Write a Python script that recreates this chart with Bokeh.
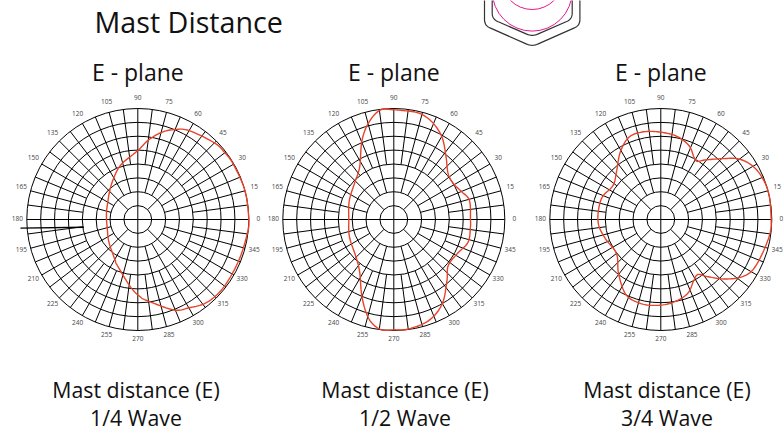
import numpy as np
from bokeh.plotting import figure
from bokeh.models import Range1d
from bokeh.core.properties import value
from bokeh.embed import file_html
from bokeh.resources import INLINE

# ---- data (radius: 333 = outer ring, 8 rings) ----
RMAX = 333.0
RINGS = [1, 2, 3, 4, 5, 6, 7, 8]
TICKS = list(range(0, 360, 15))
TITLE = "Mast Distance"
SUBTITLE = "E - plane"
CAPTION = "Mast distance (E)"
WAVES = ["1/4 Wave", "1/2 Wave", "3/4 Wave"]

a1 = [0, 15, 30, 38, 45, 60, 68, 75, 82.5, 90, 107, 120, 134, 153, 165, 180, 195, 218, 241, 246, 264, 271.5, 276.6,
      291.7, 300, 310, 322, 338, 352.5]
r1 = [333, 333, 331, 329, 325, 308, 291, 270, 240, 207, 172, 144, 121, 102, 97, 94, 95, 110, 140, 151, 204, 231, 245,
      292, 306, 324, 328, 327, 331]

a2 = [0, 14, 21.8, 30.7, 40, 50, 59.6, 68.5, 76.8, 85.6, 90, 97, 104.4, 112, 123, 136, 157, 180, 201.7, 225, 237,
      247.8, 255.9, 263, 270, 277.8, 289, 299.8, 311, 319.7, 331.5, 343, 354]
r2 = [230, 234, 221, 209, 213, 244, 286, 314, 328, 328, 329, 331, 301, 255, 188, 162, 145, 135, 143, 160, 188,
      252, 307, 332, 331, 331, 321, 292, 243, 214, 216, 233, 231]

a3 = [0, 13, 22.7, 30.6, 37.9, 44, 53, 58, 62, 69, 78.9, 90, 101, 111, 121, 133, 144.5, 159, 173, 185.5, 199, 217.8,
      232, 244.6, 254, 264, 276.6, 289.5, 298.4, 304, 309, 316.7, 324, 330.8, 341, 352.5]
r3 = [331, 333, 329, 318, 296, 263, 224, 206, 212, 237, 254, 262, 268, 265, 236, 195, 176, 188, 189, 187, 176, 168,
      206, 247, 258, 259, 253, 237, 208, 199, 220, 260, 295, 314, 321, 330]

stray_angle = [184.2, 188.1]
stray_radius = [353, 163.6]

# ---- layout ----
CX = [137.3, 393.3, 660.3]
CY = 219.0
R = 111.0
CAPTION_X = [135.5, 404.5, 666.5]

p = figure(width=784, height=434, output_backend="svg", toolbar_location=None,
           x_range=Range1d(0, 784), y_range=Range1d(434, 0), min_border=0,
           outline_line_color=None, background_fill_color="white",
           x_axis_type=None, y_axis_type=None)
p.xgrid.visible = False
p.ygrid.visible = False
p.styles = {"margin": "0"}


def polar(cx, deg, r):
    t = np.radians(np.asarray(deg, float))
    r = np.asarray(r, float) / RMAX * R
    return cx + r * np.cos(t), CY - r * np.sin(t)


def closed_spline(x, y, n=10):
    P = np.column_stack([x, y])
    out = []
    m = len(P)
    for i in range(m):
        p0, p1, p2, p3 = P[i - 1], P[i], P[(i + 1) % m], P[(i + 2) % m]
        for t in np.linspace(0, 1, n, endpoint=False):
            out.append(0.5 * (2 * p1 + (p2 - p0) * t + (2 * p0 - 5 * p1 + 4 * p2 - p3) * t ** 2
                              + (3 * p1 - p0 - 3 * p2 + p3) * t ** 3))
    out.append(out[0])
    out = np.array(out)
    return out[:, 0], out[:, 1]


def rounded(verts, rad):
    xs, ys = [verts[0][0]], [verts[0][1]]
    for i in range(1, len(verts) - 1):
        v = np.array(verts[i], float)
        a = np.array(verts[i - 1], float) - v
        b = np.array(verts[i + 1], float) - v
        a = v + a / np.linalg.norm(a) * rad
        b = v + b / np.linalg.norm(b) * rad
        for t in np.linspace(0, 1, 10):
            q = (1 - t) ** 2 * a + 2 * t * (1 - t) * v + t ** 2 * b
            xs.append(q[0]); ys.append(q[1])
    xs.append(verts[-1][0]); ys.append(verts[-1][1])
    return xs, ys


def spoke_start(deg):
    if deg % 90 == 0:
        return 0
    if deg % 45 == 0:
        return 1
    if deg % 15 == 0:
        return 2
    return 4


GRID = dict(line_color="#000000", line_width=1.0)
curves = [(a1, r1), (a2, r2), (a3, r3)]
for cx, (ang, rad) in zip(CX, curves):
    p.circle(x=[cx] * len(RINGS), y=[CY] * len(RINGS), radius=[k * R / 8 for k in RINGS],
             fill_color=None, **GRID)
    xs, ys = [], []
    for d in np.arange(0, 360, 7.5):
        x, y = polar(cx, [d, d], [spoke_start(d) * RMAX / 8, RMAX])
        xs.append(list(x)); ys.append(list(y))
    p.multi_line(xs, ys, **GRID)
    tx, ty = polar(cx, TICKS, [120.5 / R * RMAX] * len(TICKS))
    p.text(tx, ty - 1.4, text=[str(t) for t in TICKS], text_font=value("Open Sans"), text_font_size="6.5px",
           text_color="#444444", text_align="center", text_baseline="middle")
    x, y = polar(cx, ang, rad)
    sx, sy = closed_spline(x, y)
    p.line(sx, sy, line_color="#e8432a", line_width=1.4)

# stray spoke on the first chart
x, y = polar(CX[0], stray_angle, stray_radius)
p.line(x, y, line_color="#000000", line_width=1.4)

# titles
p.text([94], [20.5], text=[TITLE], text_font=value("Open Sans"), text_font_size="28.7px", text_color="#111111",
       text_baseline="alphabetic")
p.text(CX, [71] * 3, text=[SUBTITLE] * 3, text_font=value("Open Sans"), text_font_size="23px", text_color="#111111",
       text_align="center", text_baseline="alphabetic")
p.text(CAPTION_X, [388.5] * 3, text=[CAPTION] * 3, text_font=value("Open Sans"), text_font_size="21.3px",
       text_color="#111111", text_align="center", text_baseline="alphabetic")
p.text(CAPTION_X, [416.5] * 3, text=WAVES, text_font=value("Open Sans"), text_font_size="21.3px",
       text_color="#111111", text_align="center", text_baseline="alphabetic")

# antenna sketch, cut by the page top
hx = 531.7
for hw, yc, yb, in [(47.7, 25, 46), (40, 18.6, 36)]:
    xs_, ys_ = rounded([(hx - hw, -5), (hx - hw, yc), (hx, yb), (hx + hw, yc), (hx + hw, -5)], 6)
    p.line(xs_, ys_, line_color="#333333", line_width=1.2)
p.circle(x=[hx, hx], y=[-9.4, -21.7], radius=[40, 30.7], fill_color=None, line_color="#e6178f", line_width=1.0)

open("out.html", "w").write(file_html(p, INLINE))
